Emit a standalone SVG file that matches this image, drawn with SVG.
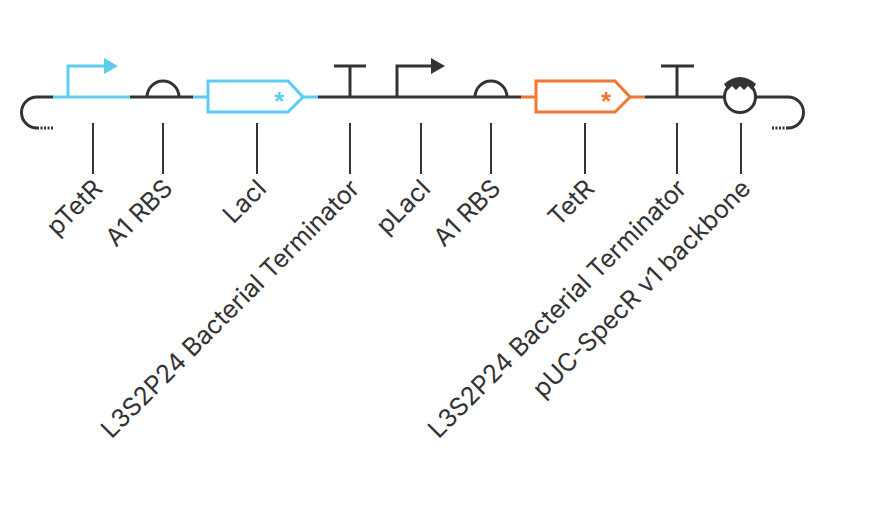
<svg xmlns="http://www.w3.org/2000/svg" width="888" height="510" viewBox="0 0 888 510">
<style>
.bb{stroke:#333;stroke-width:3;fill:none}
.cy{stroke:#5bcdf0;stroke-width:3;fill:none}
.or{stroke:#ee7732;stroke-width:3;fill:none}
.tk{stroke:#333;stroke-width:2}
.lb{font-family:Inter,"Liberation Sans",sans-serif;font-size:25px;fill:#333;text-anchor:end}
.st{font-family:"Liberation Sans",sans-serif;font-size:26px;font-weight:bold;text-anchor:middle}
</style>
<rect width="888" height="510" fill="#fff"/>
<g id="connectors">
<path class="bb" d="M53 97H37A15.5 15.5 0 0 0 37 128"/>
<path d="M37 128H53" stroke="#333" stroke-width="3" stroke-dasharray="2 1.5"/>
<path class="bb" d="M130 97H193 M318 97H521 M645 97H788A15.5 15.5 0 0 1 788 128"/>
<path d="M788 128H771" stroke="#333" stroke-width="3" stroke-dasharray="2 1.5"/>
<g class="tk"><path d="M93 123V174M163 123V174M257 123V174M350 123V174M421 123V174M491 123V174M585 123V174M677 123V174M741 123V174"/></g>
</g>
<g id="pTetR"><path class="cy" d="M53 97H130M68 97V66H105"/><path d="M104 58L118 66L104 74Z" fill="#5bcdf0"/><text class="lb" transform="translate(104,190) rotate(-45)">pTetR</text></g>
<g id="rbs1"><path class="bb" d="M147 97A16 16 0 0 1 179 97"/><text class="lb" transform="translate(174,190) rotate(-45)">A1 RBS</text></g>
<g id="LacI"><path class="cy" d="M193 97H208M303 97H318"/><path class="cy" d="M208 81H288L303 97L288 112H208Z"/><text class="st" x="279" y="110" fill="#5bcdf0">*</text><text class="lb" transform="translate(268,190) rotate(-45)">LacI</text></g>
<g id="term1"><path class="bb" d="M350 97V66M334 66H366"/><text class="lb" transform="translate(361,190) rotate(-45)">L3S2P24 Bacterial Terminator</text></g>
<g id="pLacI"><path class="bb" d="M397 97V66H432"/><path d="M431 58L445 66L431 74Z" fill="#333"/><text class="lb" transform="translate(432,190) rotate(-45)">pLacI</text></g>
<g id="rbs2"><path class="bb" d="M475 97A16 16 0 0 1 507 97"/><text class="lb" transform="translate(502,190) rotate(-45)">A1 RBS</text></g>
<g id="TetR"><path class="or" d="M521 97H536M630 97H645"/><path class="or" d="M536 81H615L630 97L615 112H536Z"/><text class="st" x="606" y="110" fill="#ee7732">*</text><text class="lb" transform="translate(596,190) rotate(-45)">TetR</text></g>
<g id="term2"><path class="bb" d="M677 97V66M661 66H694"/><text class="lb" transform="translate(688,190) rotate(-45)">L3S2P24 Bacterial Terminator</text></g>
<g id="ori"><circle cx="740" cy="97" r="15.5" fill="#fff" stroke="#333" stroke-width="3"/><path d="M724 84Q740 70 756 84L752 90L748 86L744 90L740 86L736 90L732 86L728 90Z" fill="#333"/><text class="lb" transform="translate(752,190) rotate(-45)">pUC-SpecR v1 backbone</text></g>
</svg>
